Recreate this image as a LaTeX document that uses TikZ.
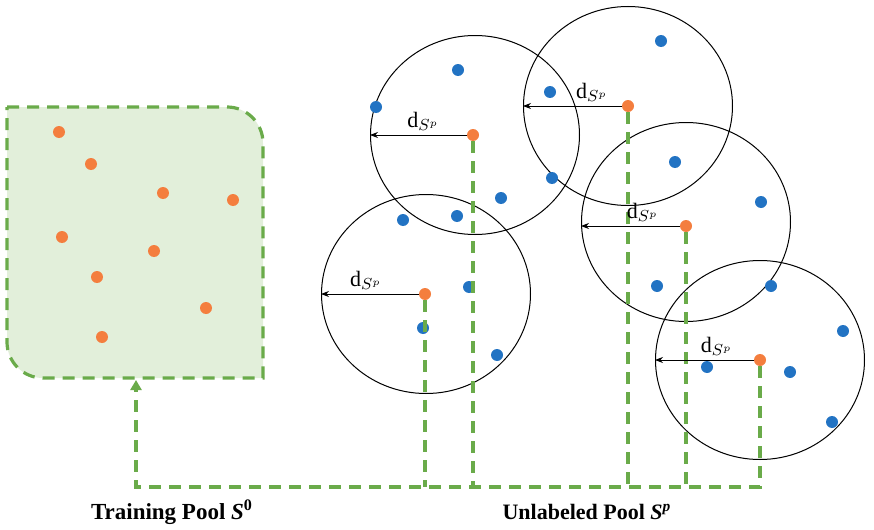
\documentclass[tikz,border=0pt]{standalone}
\usepackage{fontspec}
\setmainfont{Liberation Serif}
\usetikzlibrary{arrows.meta,shapes.geometric}
\definecolor{dotorange}{HTML}{F47E3E}
\definecolor{dotblue}{HTML}{2273C3}
\definecolor{poolgreen}{HTML}{6AAB4A}
\definecolor{poolfill}{HTML}{E2EFDA}
\begin{document}
\begin{tikzpicture}[x=0.5pt, y=-0.5pt, font=\fontsize{11}{13}\selectfont,
    query/.style={circle, fill=dotorange, inner sep=0pt, minimum size=6pt},
    sample/.style={circle, fill=dotblue, inner sep=0pt, minimum size=6pt},
    ball/.style={ellipse, draw, line width=0.5pt, inner sep=0pt, minimum width=104.5pt, minimum height=99.5pt},
    flow/.style={draw=poolgreen, line width=1.6pt, dash pattern=on 6pt off 4pt},
    reach/.style={-{Stealth[length=4pt,width=3pt]}, line width=0.4pt},
    dist/.style={above, inner sep=2pt}]
    \useasboundingbox (0,0) rectangle (874,530);
    % training pool
    \draw[flow, fill=poolfill] (7,107) -- (227,107) arc[start angle=90, end angle=0, radius=18pt]
        -- (263,378) -- (43,378) arc[start angle=270, end angle=180, radius=18pt] -- cycle;
    \foreach \p [count=\i] in {(59,132),(91,164),(163,193),(233,200),(62,237),(154,251),(97,277),(206,308),(102,337)}
        \node[query] (t\i) at \p {};
    % unlabeled pool
    \foreach \p [count=\i] in {(475,135),(628,106),(686,222),(426,294),(760,360)}
        \node[ball] (c\i) at \p {};
    \foreach \p [count=\i] in {(376,107),(458,70),(550,92),(661,41),(552,178),(501,198),(457,216),(403,220),(675,162),(761,202),
        (469,287),(423,328),(497,355),(657,286),(771,286),(843,331),(707,367),(790,372),(832,422)}
        \node[sample] (u\i) at \p {};
    \foreach \p [count=\i] in {(473,135),(628,106),(686,226),(425,294),(760,360)}
        \node[query] (q\i) at \p {};
    % back to the training pool
    \coordinate (bend) at (136,487);
    \coordinate (inlet) at (136,380);
    \foreach \i in {1,...,4}
        \draw[flow] (q\i.south) -- (q\i |- bend);
    \draw[flow, -{Triangle[length=5pt,width=5.5pt]}] (q5.south) -- (q5 |- bend) -- (bend) -- (inlet);
    % distances
    \draw[reach] (q1) -- (c1.west |- q1) node[dist, pos=0.45] (l1) {$\mathrm{d}_{S^p}$};
    \draw[reach] (q2) -- (c2.west) node[dist, pos=0.30] (l2) {$\mathrm{d}_{S^p}$};
    \draw[reach] (q3) -- (c3.west |- q3) node[dist, pos=0.375] (l3) {$\mathrm{d}_{S^p}$};
    \draw[reach] (q4) -- (c4.west) node[dist, pos=0.54] (l4) {$\mathrm{d}_{S^p}$};
    \draw[reach] (q5) -- (c5.west) node[dist, pos=0.375] (l5) {$\mathrm{d}_{S^p}$};
    % captions
    \node[font=\fontsize{11.5}{13}\selectfont\bfseries] (trainlbl) at (172,512) {Training Pool \textit{S}\textsuperscript{0}};
    \node[font=\fontsize{11}{13}\selectfont\bfseries] (unlbl) at (587,512) {Unlabeled Pool \textit{S}\textsuperscript{\textit{p}}};
\end{tikzpicture}
\end{document}
